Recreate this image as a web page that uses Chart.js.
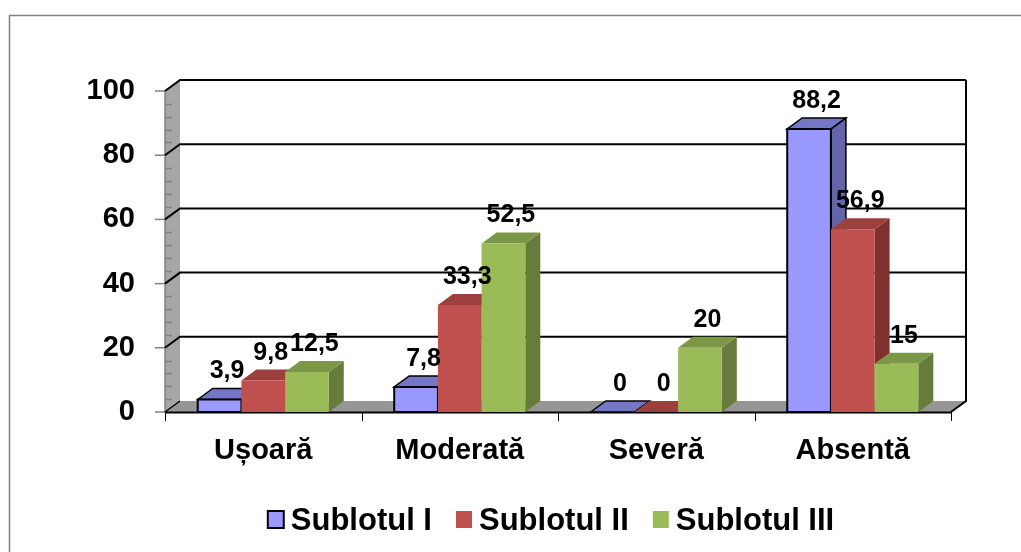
<!DOCTYPE html>
<html>
<head>
<meta charset="utf-8">
<script src="https://cdn.jsdelivr.net/npm/chart.js@4/dist/chart.umd.min.js"></script>
<style>
  html, body { margin: 0; padding: 0; background: #fff; }
  canvas { display: block; }
</style>
</head>
<body>
<canvas id="chart" width="1021" height="552"></canvas>
<script>
const categories = ['Ușoară', 'Moderată', 'Severă', 'Absentă'];
const seriesNames = ['Sublotul I', 'Sublotul II', 'Sublotul III'];
const sublot1 = [3.9, 7.8, 0, 88.2];
const sublot2 = [9.8, 33.3, 0, 56.9];
const sublot3 = [12.5, 52.5, 20, 15];
const yTicks = [0, 20, 40, 60, 80, 100];

const FONT = 'Arial, "Liberation Sans", sans-serif';
const DX = 15, DY = -11; // depth of the 3D box
const faces = [
    { front: '#9999FF', top: '#7676C6', side: '#6464A8', outline: '#000' },
    { front: '#C0504D', top: '#9B403D', side: '#80302E', outline: null },
    { front: '#9BBB59', top: '#7D9748', side: '#677C3B', outline: null }
];

function poly(ctx, pts, fill, stroke, lw) {
    ctx.beginPath();
    ctx.moveTo(pts[0][0], pts[0][1]);
    for (let i = 1; i < pts.length; i++) ctx.lineTo(pts[i][0], pts[i][1]);
    ctx.closePath();
    if (fill) { ctx.fillStyle = fill; ctx.fill(); }
    if (stroke) { ctx.strokeStyle = stroke; ctx.lineWidth = lw || 1; ctx.stroke(); }
}

function line(ctx, pts, color, lw) {
    ctx.beginPath();
    ctx.moveTo(pts[0][0], pts[0][1]);
    for (let i = 1; i < pts.length; i++) ctx.lineTo(pts[i][0], pts[i][1]);
    ctx.strokeStyle = color;
    ctx.lineWidth = lw;
    ctx.stroke();
}

const box3d = {
    id: 'box3d',
    beforeDraw(chart) {
        const ctx = chart.ctx;
        ctx.save();
        ctx.fillStyle = '#fff';
        ctx.fillRect(0, 0, chart.width, chart.height);
        ctx.strokeStyle = '#808080';
        ctx.lineWidth = 1.5;
        ctx.strokeRect(9.5, 15.5, chart.width + 20, chart.height + 20);
        ctx.restore();
    },
    beforeDatasetsDraw(chart) {
        const ctx = chart.ctx;
        const a = chart.chartArea;
        const xs = chart.scales.x, ys = chart.scales.y;
        const L = a.left, R = a.right, T = a.top, B = a.bottom;
        ctx.save();
        ctx.lineJoin = 'miter';

        // left wall
        poly(ctx, [[L, B], [L, T], [L + DX, T + DY], [L + DX, B + DY]], '#A6A6A6');
        line(ctx, [[L, T], [L, B]], '#808080', 1.5);
        // minor ticks on the wall
        for (let v = 4; v < 100; v += 4) {
            if (v % 20 === 0) continue;
            const y = Math.round(ys.getPixelForValue(v)) + 0.5;
            line(ctx, [[L, y], [L + 7, y]], '#808080', 1.5);
        }
        // floor
        poly(ctx, [[L, B], [R, B], [R + DX, B + DY], [L + DX, B + DY]], '#969696');

        // back wall grid lines
        yTicks.forEach(v => {
            const y = ys.getPixelForValue(v);
            line(ctx, [[L - 10, y], [L, y]], '#808080', 1.5);
            if (v === 0) {
                line(ctx, [[L, y], [L + DX, y + DY]], '#000', 1.5);
            } else {
                line(ctx, [[L, y], [L + DX, y + DY], [R + DX, y + DY]], '#000', 2);
            }
        });
        // back wall right edge and floor edges
        line(ctx, [[R + DX, T + DY], [R + DX, B + DY], [R, B]], '#000', 2);
        line(ctx, [[L, B + 0.5], [R, B + 0.5]], '#000', 2);
        for (let k = 0; k <= categories.length; k++) {
            const x = Math.round(xs.getPixelForValue(k - 0.5)) + 0.5;
            line(ctx, [[x, B], [x, B + 9]], '#000', 1);
        }

        // bars, category by category, left to right
        const metas = chart.data.datasets.map((d, j) => chart.getDatasetMeta(j));
        for (let i = 0; i < categories.length; i++) {
            metas.forEach((meta, j) => {
                const el = meta.data[i];
                const f = faces[j];
                const l = el.x - el.width / 2, r = el.x + el.width / 2;
                const t = el.y, b = el.base;
                if (b - t > 0.5) {
                    poly(ctx, [[r, t], [r + DX, t + DY], [r + DX, b + DY], [r, b]], f.side, f.outline, 1.5);
                }
                poly(ctx, [[l, t], [l + DX, t + DY], [r + DX, t + DY], [r, t]], f.top, f.outline, 1.5);
                if (b - t > 0.5) {
                    poly(ctx, [[l, t], [r, t], [r, b], [l, b]], f.front, f.outline, 2);
                }
            });
        }

        // value labels
        ctx.font = 'bold 25px ' + FONT;
        ctx.fillStyle = '#000';
        ctx.textAlign = 'center';
        ctx.textBaseline = 'alphabetic';
        metas.forEach((meta, j) => {
            const values = chart.data.datasets[j].data;
            meta.data.forEach((el, i) => {
                const txt = String(values[i]).replace('.', ',');
                ctx.fillText(txt, el.x + DX / 2, el.y + DY - 10);
            });
        });

        // legend
        ctx.font = 'bold 31px ' + FONT;
        ctx.textAlign = 'left';
        const widths = seriesNames.map(n => ctx.measureText(n).width);
        const total = widths.reduce((s, w) => s + w + 16 + 7, 0) + 24 * (seriesNames.length - 1);
        let x = 551 - total / 2;
        seriesNames.forEach((n, j) => {
            ctx.fillStyle = faces[j].front;
            ctx.fillRect(x, 511, 16, 17);
            if (faces[j].outline) {
                ctx.strokeStyle = '#000';
                ctx.lineWidth = 2;
                ctx.strokeRect(x, 511, 16, 17);
            }
            ctx.fillStyle = '#000';
            ctx.fillText(n, x + 16 + 7, 530);
            x += 16 + 7 + widths[j] + 24;
        });

        ctx.restore();
        return false;
    }
};

new Chart(document.getElementById('chart'), {
    type: 'bar',
    data: {
        labels: categories,
        datasets: [
            { label: seriesNames[0], data: sublot1, backgroundColor: faces[0].front },
            { label: seriesNames[1], data: sublot2, backgroundColor: faces[1].front },
            { label: seriesNames[2], data: sublot3, backgroundColor: faces[2].front }
        ]
    },
    options: {
        responsive: false,
        animation: false,
        devicePixelRatio: 1,
        categoryPercentage: 0.667,
        barPercentage: 1,
        layout: { padding: { top: 91, right: 70, left: 0, bottom: 0 } },
        plugins: {
            legend: { display: false },
            tooltip: { enabled: false }
        },
        scales: {
            x: {
                grid: { display: false },
                border: { display: false },
                ticks: { color: '#000', font: { family: FONT, size: 29, weight: 'bold' }, padding: 14 },
                afterFit: s => { s.height = 140; }
            },
            y: {
                min: 0,
                max: 100,
                grid: { display: false },
                border: { display: false },
                ticks: { stepSize: 20, color: '#000', font: { family: FONT, size: 29, weight: 'bold' }, padding: 22 },
                afterFit: s => { s.width = 165; }
            }
        }
    },
    plugins: [box3d]
});
</script>
</body>
</html>
